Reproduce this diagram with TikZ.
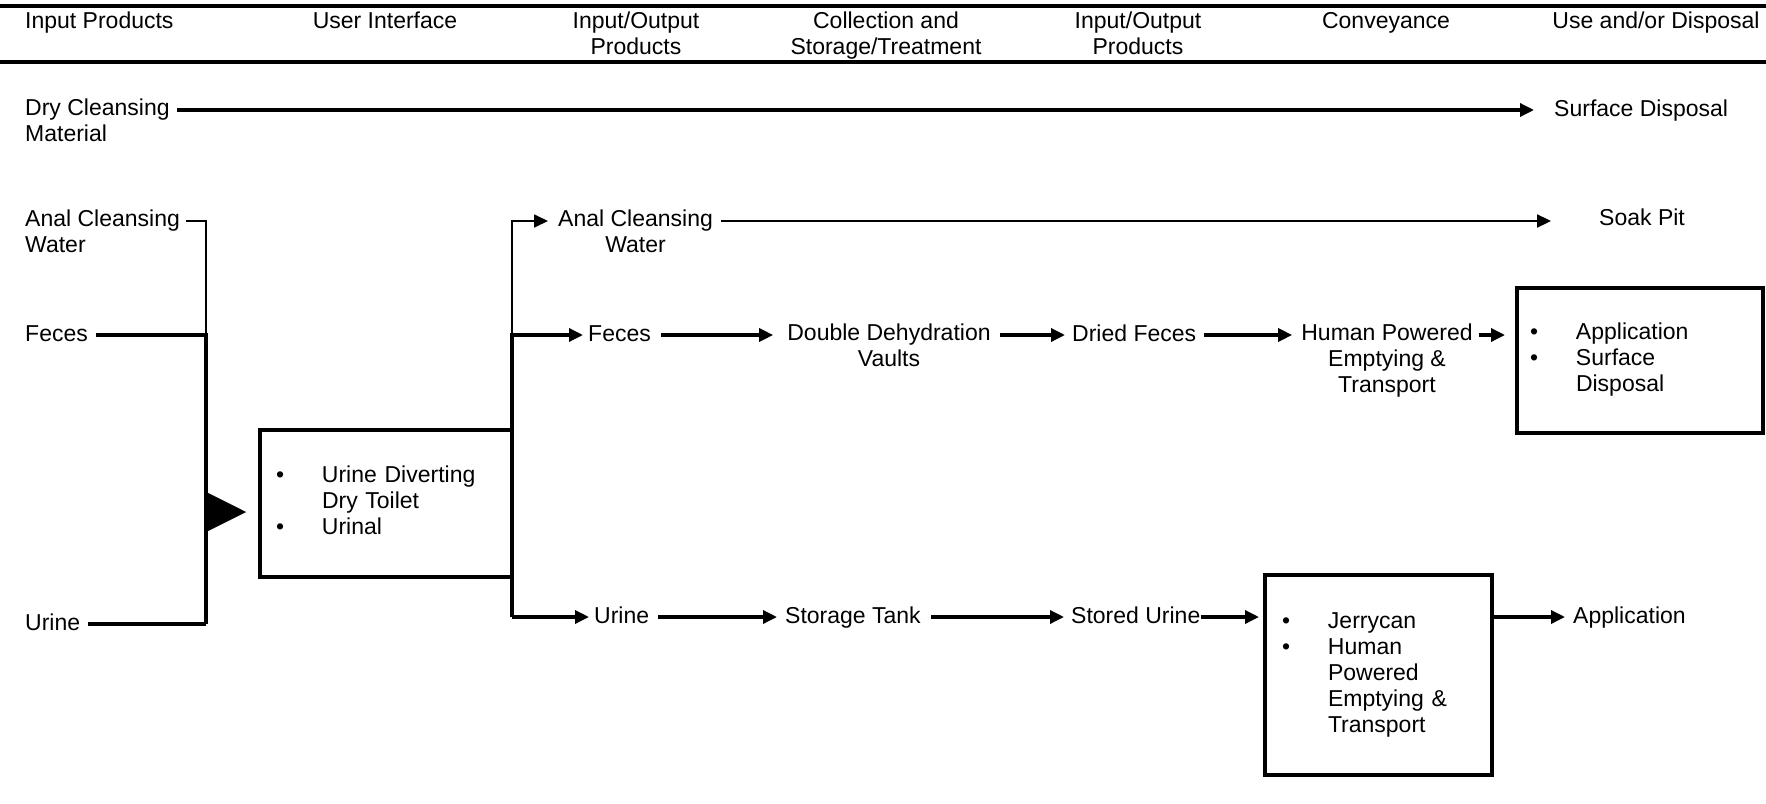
\documentclass[tikz,border=0pt]{standalone}
\usepackage{fontspec}
\setmainfont{Liberation Sans}
\usetikzlibrary{arrows.meta,calc}
\begin{document}
\begin{tikzpicture}[x=1pt,y=-1pt,
  every node/.style={font=\fontsize{23}{26}\selectfont, inner sep=0pt},
  lbl/.style={anchor=west, text height=17pt, text depth=5pt},
  hdr/.style={anchor=base},
  mlc/.style={align=center, anchor=north},
  mll/.style={align=left, anchor=north west},
  boxnode/.style={draw, line width=4pt, align=left},
  thickline/.style={line width=3.3pt},
  midline/.style={line width=2.2pt},
  thinline/.style={line width=1.7pt},
  arr/.style={-{Triangle[length=14pt,width=13pt]}},
  bigarr/.style={-{Triangle[length=40pt,width=40pt]}},
  rulel/.style={line width=3.3pt}
]
\useasboundingbox (0,0) rectangle (1766,803);

% header rules
\coordinate (rTL) at (0,6);  \coordinate (rTR) at (1766,6);
\coordinate (rBL) at (0,62); \coordinate (rBR) at (1766,62);
\draw[rulel] (rTL) -- (rTR);
\draw[rulel] (rBL) -- (rBR);

% header texts
\node[anchor=base west] (h1) at (25,28) {Input Products};
\node[hdr] (h2) at (385,28) {User Interface};
\node[mlc] (h3) at (636,12) {Input/Output\\Products};
\node[mlc] (h4) at (886,12) {Collection and\\Storage/Treatment};
\node[mlc] (h5) at (1138,12) {Input/Output\\Products};
\node[hdr] (h6) at (1386,28) {Conveyance};
\node[hdr] (h7) at (1656,28) {Use and/or Disposal};

% row: dry cleansing
\node[mll] (dry) at (25,99) {Dry Cleansing\\Material};
\node[lbl] (sd) at (1554,110) {Surface Disposal};
\coordinate (dS) at ($(dry.north east)+(7,11)$);
\draw[thickline,arr,shorten >=20pt] (dS) -- (dS -| sd.west);

% left inputs
\node[mll] (anL) at (25,210) {Anal Cleansing\\Water};
\node[lbl] (fecL) at (25,335) {Feces};
\node[lbl] (urL) at (25,624) {Urine};
\coordinate (jLF) at (206,335);
\coordinate (jLU) at (206,624);
\coordinate (aL) at ($(anL.north east)+(6,11)$);
\draw[thinline] (aL) -| (jLF);
\draw[thickline] ($(fecL.east)+(8,0)$) -- (jLF) -- (jLU);
\draw[thickline] ($(urL.east)+(8,0)$) -- (jLU);

% user interface box
\node[boxnode, minimum width=252pt, minimum height=147pt, text width=220pt] (ui) at (386,503)
  {\begin{tabular}{@{}p{46pt}@{}l@{}}\textbullet & Urine Diverting\\ & Dry Toilet\\ \textbullet & Urinal\end{tabular}};
\coordinate (jT) at (206,512);
\draw[bigarr, shorten >=12pt] (jT) -- (jT -| ui.west);

% branch on the right of the box
\node[mlc, anchor=north west] (anR) at (558,210) {Anal Cleansing\\Water};
\node[lbl] (fecR) at (588,335) {Feces};
\node[lbl] (urR) at (594,617) {Urine};
\coordinate (jRF) at (512,335);
\coordinate (jRU) at (512,617);
\coordinate (aR) at ($(anR.north west)+(-10,11)$);
\draw[thinline,arr] (jRF) |- (aR);
\draw[thickline,arr,shorten >=5pt] (jRU) |- (fecR.west);
\draw[thickline,arr,shorten >=5pt] (jRU) -- (urR.west);

% anal cleansing water -> soak pit
\node[lbl] (sp) at (1599,219) {Soak Pit};
\coordinate (aS) at ($(anR.north east)+(8,11)$);
\draw[midline,arr,shorten >=48pt] (aS) -- (aS -| sp.west);

% feces row
\node[mlc] (dd) at (889,324) {Double Dehydration\\Vaults};
\node[lbl] (df) at (1072,335) {Dried Feces};
\node[mlc] (hp) at (1387,324) {Human Powered\\Emptying \&\\Transport};
\node[boxnode, minimum width=246pt, minimum height=145pt, text width=220pt] (b3) at (1640,360)
  {\begin{tabular}{@{}p{46pt}@{}l@{}}\textbullet & Application\\ \textbullet & Surface\\ & Disposal\end{tabular}};
\coordinate (ddIn) at ($(dd.north west)+(0,11)$);
\coordinate (ddOut) at ($(dd.north east)+(9,11)$);
\coordinate (hpIn) at ($(hp.north west)+(0,11)$);
\coordinate (hpOut) at ($(hp.north east)+(6,11)$);
\draw[thickline,arr,shorten <=10pt,shorten >=14pt] (fecR.east) -- (ddIn);
\draw[thickline,arr,shorten >=7pt] (ddOut) -- (df.west);
\draw[thickline,arr,shorten <=8pt,shorten >=9pt] (df.east) -- (hpIn);
\draw[thickline,arr,shorten >=10pt] (hpOut) -- (hpOut -| b3.west);

% urine row
\node[lbl] (st) at (785,617) {Storage Tank};
\node[lbl] (su) at (1071,617) {Stored Urine};
\node[boxnode, minimum width=227pt, minimum height=200pt, text width=193pt] (b2) at (1378.5,675)
  {\begin{tabular}{@{}p{46pt}@{}l@{}}\textbullet & Jerrycan\\ \textbullet & Human\\ & Powered\\ & Emptying \&\\ & Transport\end{tabular}};
\node[lbl] (ap2) at (1573,617) {Application};
\draw[thickline,arr,shorten <=9pt,shorten >=8pt] (urR.east) -- (st.west);
\draw[thickline,arr,shorten <=10pt,shorten >=7pt] (st.east) -- (su.west);
\draw[thickline,arr,shorten >=4pt] (su.east) -- (su.east -| b2.west);
\draw[thickline,arr,shorten >=8pt] (su.east -| b2.east) -- (ap2.west);
\end{tikzpicture}
\end{document}
